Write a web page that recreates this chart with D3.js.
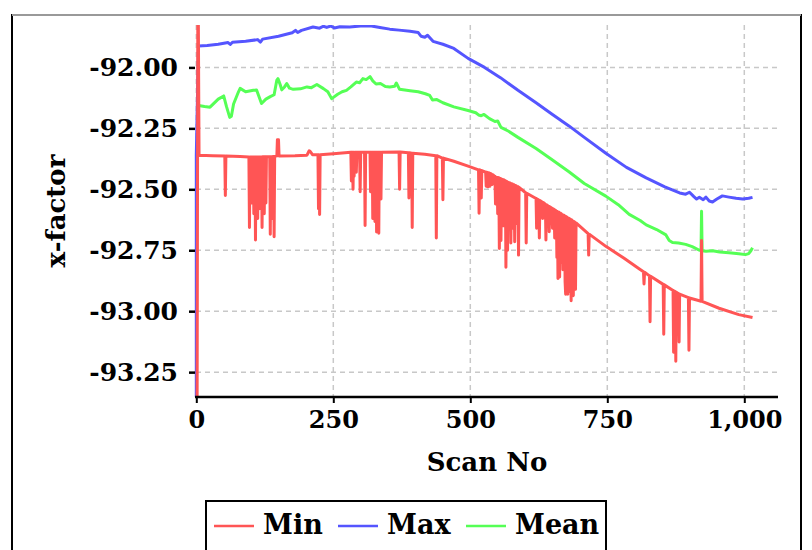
<!DOCTYPE html>
<html><head><meta charset="utf-8">
<script src="https://cdn.jsdelivr.net/npm/d3@7"></script>
<style>body{margin:0;background:#fff}svg{display:block}text{font-family:"DejaVu Serif",serif;font-weight:bold;fill:#000}</style>
</head><body><svg id="c" width="812" height="550"></svg>
<script>
// ---- data ----
const xTicks = [0, 250, 500, 750, 1000];
const xTickLabels = ["0", "250", "500", "750", "1,000"];
const yTicks = [-92.00, -92.25, -92.50, -92.75, -93.00, -93.25];
const yTickLabels = ["-92.00", "-92.25", "-92.50", "-92.75", "-93.00", "-93.25"];
const seriesNames = ["Min", "Max", "Mean"];
const seriesColors = ["#ff5555", "#5555ff", "#55ff55"];

const maxSeries = [[0,-94.0],[0,-92.36],[4,-91.912],[20,-91.91],[40,-91.905],[58,-91.898],[62,-91.906],[66,-91.897],[90,-91.893],[112,-91.886],[117,-91.896],[121,-91.884],[150,-91.872],[175,-91.858],[181,-91.848],[185,-91.857],[192,-91.848],[213,-91.834],[225,-91.839],[232,-91.831],[238,-91.836],[245,-91.83],[252,-91.838],[262,-91.833],[280,-91.834],[300,-91.83],[317,-91.829],[335,-91.836],[353,-91.843],[370,-91.847],[390,-91.852],[405,-91.857],[410,-91.872],[417,-91.876],[422,-91.868],[432,-91.893],[450,-91.905],[470,-91.922],[496,-91.963],[526,-92.0],[555,-92.042],[587,-92.094],[620,-92.145],[648,-92.19],[680,-92.24],[708,-92.287],[748,-92.353],[785,-92.41],[821,-92.453],[855,-92.49],[882,-92.515],[893,-92.52],[900,-92.512],[908,-92.53],[913,-92.54],[918,-92.533],[925,-92.543],[930,-92.532],[936,-92.548],[942,-92.552],[950,-92.54],[960,-92.527],[972,-92.532],[985,-92.537],[997,-92.54],[1008,-92.537],[1015,-92.533]];

const meanSeries = [[4,-92.156],[15,-92.16],[25,-92.163],[40,-92.13],[50,-92.117],[55,-92.16],[61,-92.205],[64,-92.2],[68,-92.15],[77,-92.1],[80,-92.086],[90,-92.1],[104,-92.094],[110,-92.093],[119,-92.148],[127,-92.13],[135,-92.12],[142,-92.112],[147,-92.052],[149,-92.046],[153,-92.07],[156,-92.092],[161,-92.08],[165,-92.066],[170,-92.085],[177,-92.09],[190,-92.088],[202,-92.08],[210,-92.083],[220,-92.07],[232,-92.087],[240,-92.1],[247,-92.128],[258,-92.11],[266,-92.1],[274,-92.094],[282,-92.08],[292,-92.06],[298,-92.063],[304,-92.046],[310,-92.05],[317,-92.038],[322,-92.055],[328,-92.068],[336,-92.066],[345,-92.078],[353,-92.08],[362,-92.077],[365,-92.064],[371,-92.09],[390,-92.096],[405,-92.1],[418,-92.108],[426,-92.115],[431,-92.134],[439,-92.132],[450,-92.145],[470,-92.162],[496,-92.177],[510,-92.186],[515,-92.195],[520,-92.198],[525,-92.193],[535,-92.21],[545,-92.222],[550,-92.22],[556,-92.246],[570,-92.262],[587,-92.287],[620,-92.333],[648,-92.377],[680,-92.428],[708,-92.476],[748,-92.529],[770,-92.563],[790,-92.603],[810,-92.628],[821,-92.646],[840,-92.665],[857,-92.687],[863,-92.71],[869,-92.718],[880,-92.72],[893,-92.726],[905,-92.735],[918,-92.75],[921,-92.75],[922,-92.59],[923,-92.752],[930,-92.754],[942,-92.752],[955,-92.757],[972,-92.76],[990,-92.764],[1002,-92.768],[1008,-92.764],[1012,-92.752],[1015,-92.74]];

const minSeries = [[1,-94.0],[3,-91.5],[5,-92.36],[30,-92.362],[52,-92.363],[53,-92.525],[54,-92.363],[80,-92.365],[96,-92.367],[97,-92.657],[98,-92.367],[100,-92.367],[101,-92.556],[102,-92.367],[104,-92.367],[105,-92.6],[106,-92.367],[107,-92.367],[108,-92.708],[109,-92.367],[111,-92.367],[112,-92.62],[113,-92.367],[114,-92.367],[115,-92.58],[116,-92.367],[119,-92.367],[120,-92.657],[121,-92.366],[123,-92.366],[124,-92.6],[125,-92.366],[126,-92.366],[127,-92.556],[128,-92.366],[134,-92.366],[135,-92.684],[136,-92.366],[138,-92.366],[139,-92.62],[140,-92.365],[141,-92.365],[142,-92.695],[143,-92.365],[147,-92.363],[148,-92.297],[150,-92.297],[151,-92.363],[180,-92.362],[202,-92.36],[206,-92.342],[208,-92.345],[212,-92.358],[222,-92.358],[223,-92.58],[224,-92.358],[225,-92.603],[226,-92.358],[250,-92.354],[282,-92.348],[283,-92.466],[284,-92.348],[285,-92.348],[286,-92.5],[287,-92.348],[288,-92.446],[289,-92.348],[291,-92.348],[292,-92.43],[293,-92.348],[298,-92.348],[299,-92.51],[300,-92.348],[307,-92.348],[308,-92.648],[309,-92.348],[317,-92.348],[318,-92.51],[319,-92.348],[321,-92.348],[322,-92.62],[323,-92.348],[325,-92.348],[326,-92.632],[327,-92.348],[328,-92.348],[329,-92.675],[330,-92.348],[332,-92.348],[333,-92.68],[334,-92.348],[336,-92.348],[337,-92.54],[338,-92.348],[370,-92.347],[371,-92.5],[372,-92.347],[387,-92.35],[388,-92.536],[389,-92.35],[393,-92.352],[394,-92.657],[395,-92.352],[417,-92.356],[437,-92.362],[438,-92.7],[439,-92.362],[449,-92.372],[450,-92.543],[451,-92.372],[470,-92.385],[496,-92.405],[515,-92.42],[516,-92.598],[517,-92.42],[519,-92.423],[520,-92.536],[521,-92.423],[528,-92.43],[529,-92.487],[530,-92.43],[532,-92.49],[533,-92.432],[535,-92.434],[536,-92.487],[537,-92.435],[539,-92.438],[540,-92.48],[541,-92.44],[545,-92.448],[546,-92.56],[547,-92.45],[549,-92.451],[550,-92.6],[551,-92.452],[552,-92.453],[553,-92.743],[554,-92.455],[555,-92.456],[556,-92.71],[557,-92.458],[559,-92.46],[560,-92.65],[561,-92.461],[564,-92.466],[565,-92.82],[566,-92.467],[567,-92.469],[568,-92.75],[569,-92.471],[570,-92.653],[571,-92.473],[573,-92.475],[574,-92.72],[575,-92.477],[577,-92.478],[578,-92.66],[579,-92.48],[580,-92.482],[581,-92.715],[582,-92.484],[584,-92.486],[585,-92.64],[586,-92.488],[587,-92.49],[588,-92.77],[589,-92.492],[601,-92.514],[602,-92.72],[603,-92.516],[620,-92.538],[621,-92.66],[622,-92.54],[625,-92.544],[626,-92.70],[627,-92.546],[631,-92.552],[632,-92.62],[633,-92.554],[637,-92.561],[638,-92.708],[639,-92.563],[643,-92.57],[644,-92.674],[645,-92.572],[649,-92.578],[650,-92.66],[651,-92.58],[653,-92.583],[654,-92.70],[655,-92.585],[657,-92.589],[658,-92.78],[659,-92.591],[660,-92.866],[661,-92.593],[662,-92.595],[663,-92.86],[664,-92.597],[666,-92.6],[667,-92.8],[668,-92.603],[669,-92.83],[670,-92.605],[672,-92.608],[673,-92.88],[674,-92.93],[675,-92.612],[676,-92.614],[677,-92.9],[678,-92.93],[679,-92.618],[681,-92.62],[682,-92.92],[683,-92.623],[684,-92.957],[685,-92.625],[686,-92.628],[687,-92.93],[688,-92.936],[689,-92.632],[690,-92.634],[691,-92.9],[692,-92.91],[693,-92.638],[715,-92.682],[716,-92.77],[717,-92.684],[748,-92.735],[780,-92.782],[808,-92.826],[816,-92.838],[817,-92.888],[818,-92.84],[827,-92.855],[828,-93.043],[829,-92.857],[852,-92.89],[853,-93.095],[854,-92.892],[870,-92.915],[871,-93.168],[872,-92.917],[874,-92.92],[875,-93.205],[876,-92.922],[880,-92.928],[881,-93.126],[882,-92.93],[898,-92.944],[899,-93.16],[900,-92.946],[918,-92.957],[921,-92.959],[922,-92.71],[923,-92.96],[954,-92.988],[990,-93.014],[1015,-93.026]];

// ---- layout ----
const svg = d3.select("#c");
const plot = {left: 196, right: 778, top: 25, bottom: 397};
const x = d3.scaleLinear().domain([0, 1060]).range([plot.left + 0.3, plot.left + 0.3 + 1060 * 0.548]);
const y = d3.scaleLinear().domain([-91.826, -93.352]).range([plot.top, plot.bottom]);

// outer frame
svg.append("rect").attr("x", 12).attr("y", 15).attr("width", 789).attr("height", 600)
  .attr("fill", "none").attr("stroke", "#000").attr("stroke-width", 2);
svg.append("line").attr("x1", 12).attr("x2", 801).attr("y1", 15).attr("y2", 15)
  .attr("stroke", "#999").attr("stroke-width", 2);

// grid
const grid = svg.append("g").attr("stroke", "#c8c8c8").attr("stroke-width", 1.5).attr("stroke-dasharray", "5,4");
grid.selectAll(".gy").data(yTicks).join("line")
  .attr("x1", plot.left).attr("x2", plot.right).attr("y1", d => y(d)).attr("y2", d => y(d));
grid.selectAll(".gx").data(xTicks).join("line")
  .attr("x1", d => x(d)).attr("x2", d => x(d)).attr("y1", plot.top).attr("y2", plot.bottom);

// lines
svg.append("clipPath").attr("id", "clip").append("rect")
  .attr("x", plot.left - 2).attr("y", plot.top).attr("width", plot.right - plot.left + 2).attr("height", plot.bottom - plot.top);
const line = d3.line().x(d => x(d[0])).y(d => y(d[1]));
const lg = svg.append("g").attr("clip-path", "url(#clip)").attr("fill", "none").attr("stroke-width", 3).attr("stroke-linejoin", "round");
lg.append("path").datum(maxSeries).attr("d", line).attr("stroke", seriesColors[1]);
lg.append("path").datum(meanSeries).attr("d", line).attr("stroke", seriesColors[2]);
lg.append("path").datum(minSeries).attr("d", line).attr("stroke", seriesColors[0]);

// axes
const xAxis = d3.axisBottom(x).tickValues(xTicks).tickSize(6).tickPadding(8)
  .tickFormat((d, i) => xTickLabels[i]);
const gx = svg.append("g").attr("transform", `translate(0,${plot.bottom})`).call(xAxis);
gx.select(".domain").remove();
gx.append("line").attr("x1", plot.left - 1).attr("x2", plot.right).attr("stroke", "#000").attr("stroke-width", 2.5);
gx.selectAll(".tick line").attr("stroke", "#000").attr("stroke-width", 2);
gx.selectAll(".tick text").attr("font-size", 24).attr("font-family", "DejaVu Serif").attr("font-weight", "bold").attr("fill", "#000");

const yAxis = d3.axisLeft(y).tickValues(yTicks).tickSize(6).tickPadding(11)
  .tickFormat((d, i) => yTickLabels[i]);
const gy = svg.append("g").attr("transform", `translate(${plot.left - 1},0)`).call(yAxis);
gy.select(".domain").remove();
gy.selectAll(".tick line").attr("stroke", "#000").attr("stroke-width", 2.5);
gy.selectAll(".tick text").attr("font-size", 25).attr("font-family", "DejaVu Serif").attr("font-weight", "bold").attr("fill", "#000");

// axis titles
svg.append("text").attr("x", (plot.left + plot.right) / 2).attr("y", 471).attr("text-anchor", "middle")
  .attr("font-size", 26).text("Scan No");
svg.append("text").attr("transform", `translate(65,${(plot.top + plot.bottom) / 2}) rotate(-90)`).attr("text-anchor", "middle")
  .attr("font-size", 26).text("x-factor");

// legend
const leg = svg.append("g");
leg.append("rect").attr("x", 206).attr("y", 501).attr("width", 400).attr("height", 80)
  .attr("fill", "#fff").attr("stroke", "#000").attr("stroke-width", 2);
const legX = [214, 338, 466];
seriesNames.forEach((n, i) => {
  leg.append("line").attr("x1", legX[i]).attr("x2", legX[i] + 40).attr("y1", 526).attr("y2", 526)
    .attr("stroke", seriesColors[i]).attr("stroke-width", 2.5);
  leg.append("text").attr("x", legX[i] + 49).attr("y", 534).attr("font-size", 27).text(n);
});
</script></body></html>
